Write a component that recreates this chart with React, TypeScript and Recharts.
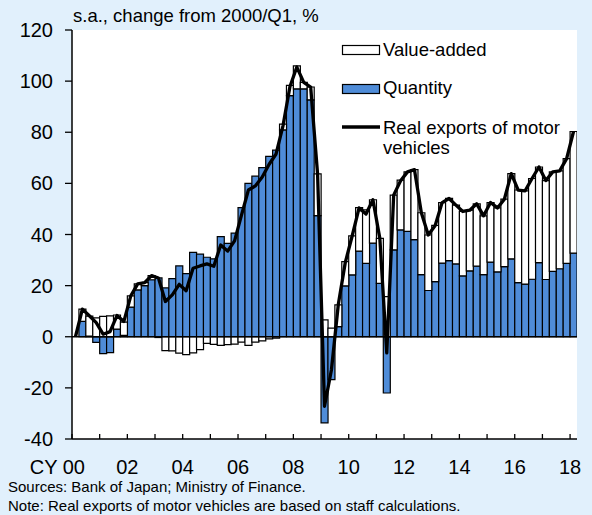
import React from 'react';
import { ComposedChart, Bar, Line, XAxis, YAxis, CartesianGrid, ReferenceLine } from 'recharts';

// 2000/Q1 .. 2018/Q1 (73 quarters)
const quantity = [
  0, 6, 0.3, -2.2, -6.6, -6.2, 3, 0.5, 11.6, 18.3, 20, 22.3, 23,
  19.1, 22.7, 27.7, 24.7, 33, 32.3, 31.1, 30.5, 39.2, 36.5, 40.5, 50.5,
  60, 62.8, 66.2, 70.6, 73, 80.9, 94.3, 97, 97, 92.7, 47.4, -33.7,
  -16.8, 4, 19.9, 24.2, 33.5, 28.7, 36.6, 20.9, -22, 34, 41.8, 41.2,
  38, 24.3, 18.1, 21.6, 28.8, 29.8, 28.5, 23.8, 25.8, 27.6, 24.3, 29.2,
  25.4, 27.4, 30.5, 21.2, 20.6, 22.5, 29, 22.4, 25.6, 26.6, 28.7, 32.7,
];

const valueAdded = [
  0, 4.8, 7.8, 7.4, 8, 8.2, 5.5, 5.2, 4.4, 2.4, 1.2, 1.6, -0.3,
  -5.4, -5.5, -6.4, -7, -6.3, -5, -2.6, -3, -3.4, -3.1, -2.9, -2.1,
  -3.4, -2.1, -1.6, -0.8, -0.5, 2.3, 4, 9, 2.5, 5, 16.3, 6.6,
  3.4, 8.5, 9.5, 15.3, 17, 20.9, 17, 17.6, 15.7, 21.4, 19.5, 23.3,
  27.4, 24.2, 21.7, 22, 23.7, 24.3, 23, 25.2, 23.7, 24.4, 23, 23.3,
  25, 26.4, 33.3, 36.2, 36.5, 39.4, 37.4, 38.7, 38.9, 38.3, 41, 47.6,
];

const realExports = [
  0, 10.8, 8.2, 5.5, 1, 2, 8.3, 6, 16, 20.7, 21.2, 23.9, 23,
  13.8, 16.4, 20.5, 18, 26.8, 27.7, 28.5, 27.6, 35.9, 33.5, 37.5, 47.6,
  57.4, 59, 62.5, 67.5, 71.5, 82.5, 97.8, 105.5, 99.5, 97.7, 63.7, -27.2,
  -13, 12.7, 29, 39.4, 50.4, 48, 53.6, 38.5, -6.3, 55.4, 61, 64.5,
  65.4, 48.5, 39.8, 43.5, 52.5, 54.1, 51.5, 49, 49.5, 52, 47.3, 52.5,
  50.4, 53.8, 63.8, 57.4, 57.1, 61.9, 66.4, 61.1, 64.5, 64.9, 69.7, 80.3,
];

const yearTickLabels = ['00', '', '02', '', '04', '', '06', '', '08', '', '10', '', '12', '', '14', '', '16', '', '18'];
const yTicks = [-40, -20, 0, 20, 40, 60, 80, 100, 120];

const data = quantity.map((q, i) => ({
  x: i + 0.5,
  q,
  v: valueAdded[i],
  total: realExports[i],
}));

const xTicks = yearTickLabels.map((_, k) => k * 4);

const FONT = '"Liberation Sans", Arial, sans-serif';
const BG = '#E1F0FC';
const BLUE = '#4F8CD8';

const XTick = (props: any) => {
  const { x, y, payload } = props;
  const k = Math.round(payload.value / 4);
  const label = yearTickLabels[k];
  return (
    <g>
      <line x1={x} y1={y} x2={x} y2={y - 5} stroke="#000" strokeWidth={1.3} />
      {label ? (
        <text
          x={k === 0 ? x + 13 : x}
          y={y + 35}
          textAnchor={k === 0 ? 'end' : 'middle'}
          fontSize={20}
          fontFamily={FONT}
          fill="#000"
        >
          {k === 0 ? 'CY 00' : label}
        </text>
      ) : null}
    </g>
  );
};

export default function App() {
  return (
    <div style={{ position: 'absolute', left: 0, top: 0, width: 592, height: 515, background: BG, overflow: 'hidden' }}>
      <ComposedChart
        width={592}
        height={515}
        data={data}
        stackOffset="sign"
        barCategoryGap={0}
        barGap={0}
        margin={{ top: 30, right: 15, bottom: 46, left: 0 }}
      >
        <CartesianGrid fill="#FFFFFF" horizontal={false} vertical={false} />
        <XAxis
          dataKey="x"
          type="number"
          domain={[0, 73]}
          ticks={xTicks}
          interval={0}
          height={30}
          tickSize={0}
          tickMargin={0}
          tickLine={false}
          axisLine={{ stroke: '#000', strokeWidth: 1.5 }}
          tick={<XTick />}
          allowDataOverflow
        />
        <XAxis
          xAxisId="top"
          dataKey="x"
          type="number"
          orientation="top"
          domain={[0, 73]}
          height={0}
          tick={false}
          tickLine={false}
          axisLine={{ stroke: '#000', strokeWidth: 1.5 }}
        />
        <YAxis
          type="number"
          domain={[-40, 120]}
          ticks={yTicks}
          interval={0}
          width={72}
          tickSize={7}
          tickMargin={12}
          tickLine={{ stroke: '#000', strokeWidth: 1.3 }}
          axisLine={{ stroke: '#000', strokeWidth: 1.5 }}
          tick={{ fontSize: 20, fill: '#000', fontFamily: FONT }}
          allowDataOverflow
        />
        <YAxis
          yAxisId="right"
          orientation="right"
          type="number"
          domain={[-40, 120]}
          width={0}
          tick={false}
          tickLine={false}
          axisLine={{ stroke: '#000', strokeWidth: 1.5 }}
        />
        <Bar dataKey="q" stackId="a" fill={BLUE} stroke="#000" strokeWidth={1.2} isAnimationActive={false} />
        <Bar dataKey="v" stackId="a" fill="#FFFFFF" stroke="#000" strokeWidth={1.2} isAnimationActive={false} />
        <ReferenceLine y={0} stroke="#000" strokeWidth={1.5} />
        <Line
          dataKey="total"
          type="linear"
          stroke="#000"
          strokeWidth={3.3}
          dot={false}
          strokeLinejoin="round"
          isAnimationActive={false}
        />
      </ComposedChart>
      <svg
        width={592}
        height={515}
        style={{ position: 'absolute', left: 0, top: 0, pointerEvents: 'none' }}
      >
        <text x={73} y={21.5} fontSize={18.5} fontFamily={FONT} fill="#000">
          s.a., change from 2000/Q1, %
        </text>
        <rect x={342.5} y={45.5} width={37} height={9} fill="#FFFFFF" stroke="#000" strokeWidth={1.2} />
        <text x={383} y={55.5} fontSize={18.5} fontFamily={FONT} fill="#000">Value-added</text>
        <rect x={342.5} y={84.5} width={37} height={9} fill={BLUE} stroke="#000" strokeWidth={1.2} />
        <text x={383} y={94} fontSize={18.5} fontFamily={FONT} fill="#000">Quantity</text>
        <line x1={342} y1={127} x2={380} y2={127} stroke="#000" strokeWidth={3.3} />
        <text x={383} y={133.5} fontSize={18.5} fontFamily={FONT} fill="#000">Real exports of motor</text>
        <text x={383} y={154} fontSize={18.5} fontFamily={FONT} fill="#000">vehicles</text>
        <text x={8} y={492} fontSize={15} fontFamily={FONT} fill="#000">
          Sources: Bank of Japan; Ministry of Finance.
        </text>
        <text x={8} y={511} fontSize={15} fontFamily={FONT} fill="#000">
          Note: Real exports of motor vehicles are based on staff calculations.
        </text>
      </svg>
    </div>
  );
}
